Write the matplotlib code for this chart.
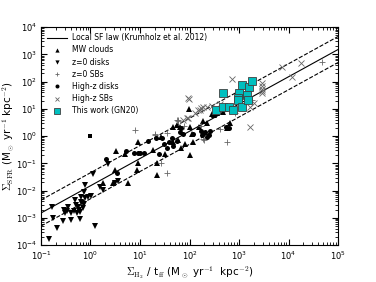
import matplotlib
matplotlib.use("Agg")
import matplotlib.pyplot as plt
import matplotlib.ticker as mticker
import numpy as np

plt.rcParams["mathtext.fontset"] = "cm"
plt.rcParams["mathtext.rm"] = "DejaVu Sans"

# all positions as log10 values
mw_lx = [1.98, 0.52, 0.96, 0.69, 0.505, 0.75, 0.935, 1.34, 1.50, 1.66, 1.77, 2.00,
         2.05, 2.27, 2.49, 2.76, 0.26, 0.45, 0.96, 1.34, 1.90, 1.67, 1.81, 2.55,
         1.27, 1.43, 2.01, 2.19, 2.45, 2.08, 1.74, 1.82, 2.67, 2.82, 2.35]
mw_ly = [1.00, -0.54, -0.20, -0.66, -1.25, -1.71, -1.25, -1.42, -0.64, -0.20, -0.15, -0.69,
         0.07, 0.56, 0.76, 0.29, -1.71, -1.71, -0.98, -0.98, -0.29, 0.34, 0.32, 0.86,
         -0.51, -0.05, 0.34, 0.34, 0.80, -0.21, 0.40, -0.43, 0.87, 0.48, 0.47]

disk0_lx = [0.055, 0.347, -0.12, 0.19, 0.25, -0.13, 0.50, 0.565, -0.32, -0.19, -0.12, -0.05,
            0.015, -0.20, -0.17, -0.25, -0.29, -0.13, -0.15, -0.24, -0.21, -0.77, -0.455,
            -0.47, -0.52, -0.40, -0.33, -0.28, -0.75, -0.56, -0.39, -0.21, -0.67, 0.085,
            -0.84, -0.54]
disk0_ly = [-1.38, -1.03, -1.80, -1.88, -1.98, -2.04, -1.72, -1.64, -2.35, -2.25, -2.29, -2.23,
            -2.20, -2.41, -2.47, -2.62, -2.53, -2.50, -2.65, -2.72, -2.78, -2.59, -2.62,
            -2.74, -2.81, -2.81, -2.74, -2.81, -3.02, -3.11, -3.08, -3.06, -3.39, -3.30,
            -3.79, -2.72]

sb0_lx = [0.895, 1.31, 1.42, 1.55, 1.74, 2.29, 2.23, 2.62, 2.91, 3.27, 4.67, 1.54, 1.89,
          1.77, 1.76, 2.28, 1.30, 2.76]
sb0_ly = [0.22, 0.05, -1.0, -1.37, 0.59, -0.15, 0.37, 0.27, 0.86, 1.32, 2.70, 0.10, 0.37,
          0.59, 0.55, -0.09, 0.06, -0.21]

hzd_lx = [0.32, 0.53, 0.72, 0.88, 0.95, 1.0, 1.08, 1.38, 1.17, 1.325, 1.44, 1.49, 1.54,
          1.64, 1.67, 1.59, 1.74, 1.81, 1.86, 1.82, 2.08, 2.23, 2.25, 2.32, 2.41, 2.39,
          2.74, 2.80, 2.36, 2.30]
hzd_ly = [-0.83, -1.37, -0.54, -0.61, -0.62, -0.61, -0.61, -0.66, -0.18, -0.085, -0.06,
          -0.30, -0.43, -0.085, -0.36, -0.21, -0.18, 0.14, 0.06, 0.30, 0.06, 0.18, 0.04,
          0.14, 0.18, 0.04, 0.34, 0.28, -0.05, 0.10]
# odd square marker at (1, 1)
hzd_sq_lx = [0.0]
hzd_sq_ly = [0.0]

hzsb_lx = [1.99, 2.86, 1.96, 2.21, 2.28, 2.11, 2.62, 3.46, 3.46, 3.46, 3.46, 3.46, 3.30,
           3.23, 3.87, 4.26, 4.08, 3.22, 2.35, 2.45, 2.18, 2.23, 1.94, 1.86, 1.97]
hzsb_ly = [1.37, 2.08, 0.65, 0.95, 1.08, 0.83, 1.17, 1.93, 1.83, 1.74, 1.64, 1.57, 1.20,
           1.08, 2.54, 2.67, 2.18, 0.34, 1.05, 1.10, 0.95, 1.02, 0.67, 0.59, 1.41]

gn20_lx = [2.68, 2.53, 2.67, 2.79, 2.88, 2.99, 2.98, 2.97, 3.06, 3.07, 3.17, 3.18, 3.20, 3.27]
gn20_ly = [1.59, 0.95, 1.08, 1.08, 0.95, 1.57, 1.38, 1.32, 1.86, 1.08, 1.50, 1.32, 1.81, 2.03]

law_x = [1e-1, 1e5]
eps_ff = 0.015
scatter_fac = 3.0


def p(v):
    return 10 ** np.asarray(v)


fig = plt.figure(figsize=(3.76, 2.82), dpi=100)
ax = fig.add_axes([0.109, 0.131, 0.790, 0.773])

lx = np.array(law_x)
ax.plot(lx, eps_ff * lx, "k-", lw=0.8, label="Local SF law (Krumholz et al. 2012)")
ax.plot(lx, eps_ff * scatter_fac * lx, "k--", lw=0.8)
ax.plot(lx, eps_ff / scatter_fac * lx, "k--", lw=0.8)

ax.plot(p(mw_lx), p(mw_ly), "k^", ms=3.8, mew=0, ls="none", label="MW clouds")
ax.plot(p(disk0_lx), p(disk0_ly), "kv", ms=3.8, mew=0, ls="none", label="z=0 disks")
ax.plot(p(sb0_lx), p(sb0_ly), "+", color="0.4", ms=4, mew=0.6, ls="none", label="z=0 SBs")
ax.plot(p(hzd_lx), p(hzd_ly), "ko", ms=3.6, mew=0, ls="none", label="High-z disks")
ax.plot(p(hzd_sq_lx), p(hzd_sq_ly), "ks", ms=3.5, mew=0, ls="none")
ax.plot(p(hzsb_lx), p(hzsb_ly), "x", color="0.4", ms=4, mew=0.6, ls="none", label="High-z SBs")
ax.plot(p(gn20_lx), p(gn20_ly), "s", color="c", mec="0.25", mew=0.6, ms=5.5, ls="none",
        label="This work (GN20)")

ax.set_xscale("log")
ax.set_yscale("log")
ax.set_xlim(1e-1, 1e5)
ax.set_ylim(1e-4, 1e4)
ax.xaxis.set_minor_formatter(mticker.NullFormatter())
ax.yaxis.set_minor_formatter(mticker.NullFormatter())
ax.tick_params(which="both", direction="in", top=True, right=True, labelsize=6, pad=3)
ax.tick_params(which="major", length=4)
ax.tick_params(which="minor", length=2)

ax.set_xlabel(r"$\Sigma_{\rm H_2}$ / t$_{\rm ff}$ (M$_\odot$ yr$^{-1}$  kpc$^{-2}$)", fontsize=7.5, labelpad=2)
ax.set_ylabel(r"$\Sigma_{\rm SFR}$ (M$_\odot$ yr$^{-1}$ kpc$^{-2}$)", fontsize=7.5)
ax.yaxis.set_label_coords(-0.085, 0.5)

ax.legend(loc="upper left", frameon=False, fontsize=5.5, numpoints=1, handlelength=2.6,
          labelspacing=0.42, borderaxespad=0.4, markerscale=0.8, handletextpad=0.6)

fig.savefig("out.png", dpi=100)
